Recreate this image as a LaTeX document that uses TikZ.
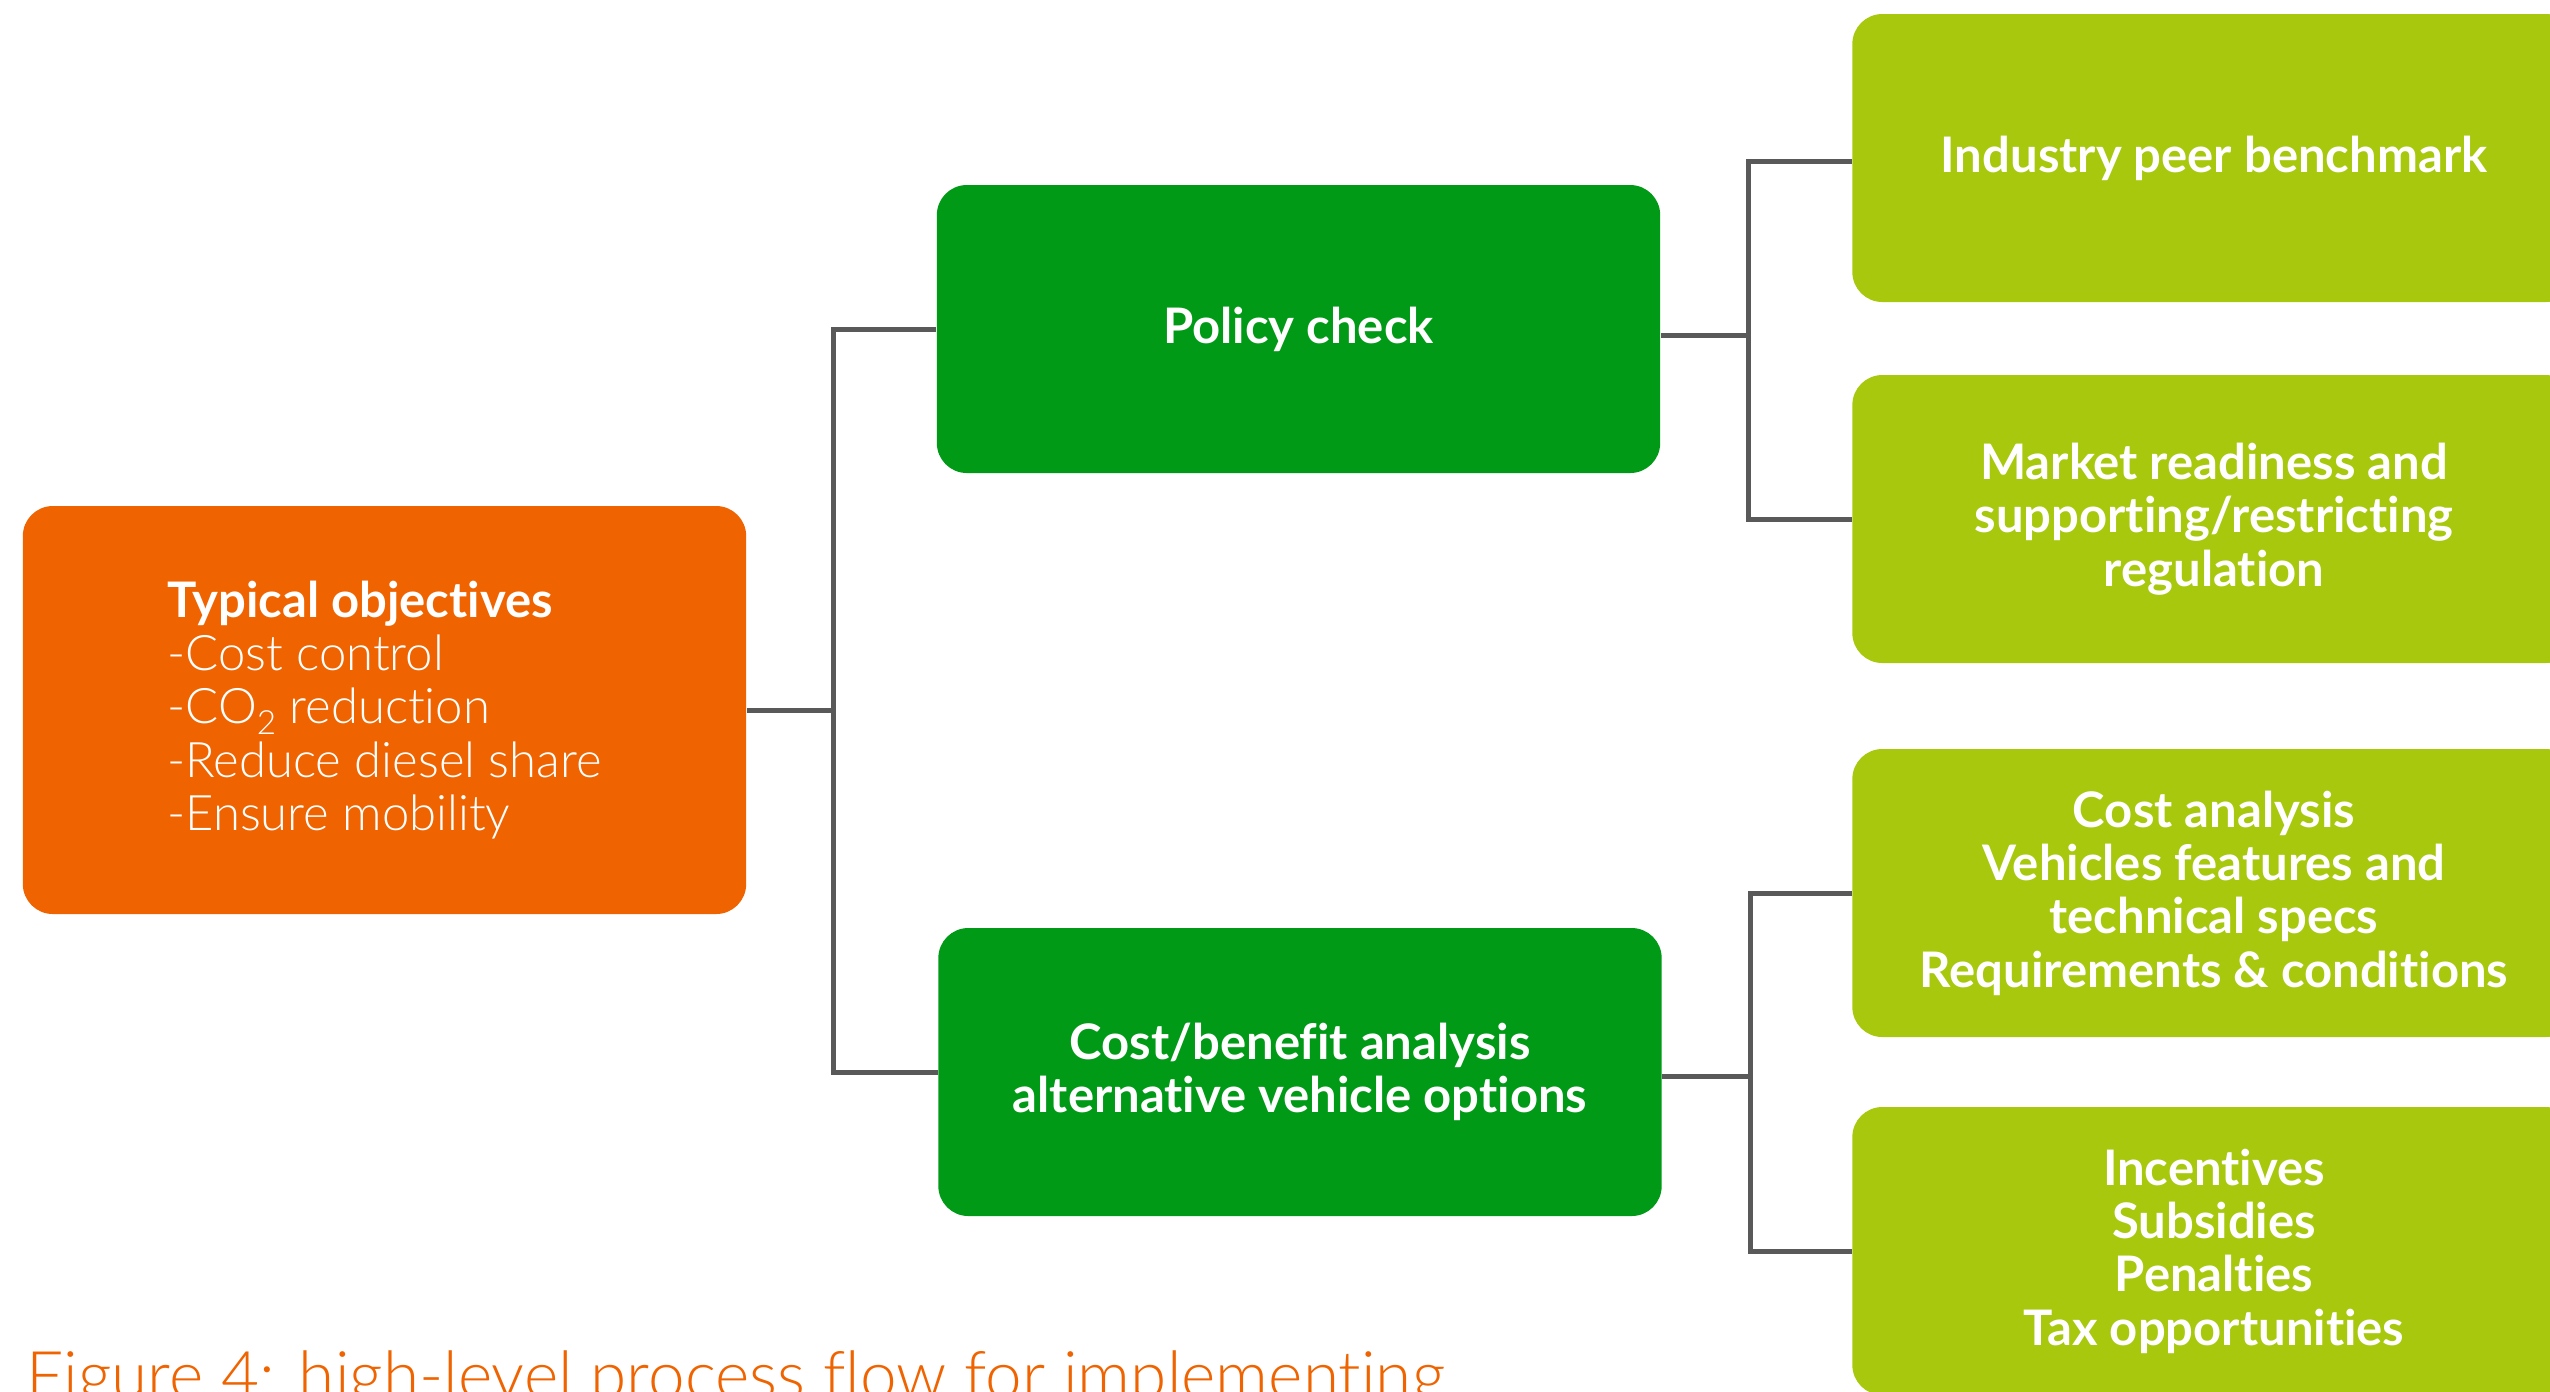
\documentclass[tikz,border=0pt]{standalone}
\usepackage{fontspec}
\setmainfont{Lato}[Ligatures=NoCommon]
\newfontfamily\lightfont{Lato Light}[Ligatures=NoCommon]
\definecolor{orangec}{HTML}{EF6400}
\definecolor{greenc}{HTML}{009A17}
\definecolor{limec}{HTML}{A8C80E}
\definecolor{linec}{HTML}{595959}
\tikzset{
  box/.style={rounded corners=9pt, minimum width=217pt, minimum height=86.4pt, inner sep=0pt,
    text=white, align=center, font=\bfseries\fontsize{14.7}{16}\selectfont},
  mainbox/.style={box, fill=greenc},
  subbox/.style={box, fill=limec},
  conn/.style={draw=linec, line width=1.5pt}
}
\begin{document}
\begin{tikzpicture}[x=0.3pt,y=-0.3pt]
\clip (0,0) rectangle (2550,1391);
\fill[white] (0,0) rectangle (2550,1391);
\node[box, fill=orangec, minimum height=122.4pt, align=left, font=\fontsize{14.7}{16}\selectfont] (obj) at (384.5,710)
  {\textbf{Typical objectives}\\{\lightfont -Cost control}\\{\lightfont -CO\raisebox{-0.45ex}{\fontsize{10}{10}\selectfont 2} reduction}\\{\lightfont -Reduce diesel share}\\{\lightfont -Ensure mobility}};
\node[mainbox] (policy) at (1298.5,329) {Policy check};
\node[mainbox] (cost) at (1300,1072) {Cost/benefit analysis\\alternative vehicle options};
\node[subbox] (ind) at (2214,158) {Industry peer benchmark};
\node[subbox] (mkt) at (2214,519) {Market readiness and\\supporting/restricting\\regulation};
\node[subbox] (ca) at (2214,893) {Cost analysis\\Vehicles features and\\technical specs\\Requirements \& conditions};
\node[subbox] (inc) at (2214,1251) {Incentives\\Subsidies\\Penalties\\Tax opportunities};
\draw[conn] (obj.east) -- ++(87,0) coordinate (j1);
\draw[conn] (j1) |- (policy.west);
\draw[conn] (j1) |- (cost.west);
\draw[conn] ([yshift=-1.8pt]policy.east) -- ++(88,0) coordinate (j2);
\draw[conn] (j2) |- ([yshift=-0.9pt]ind.west);
\draw[conn] (j2) |- (mkt.west);
\draw[conn] ([yshift=-1.2pt]cost.east) -- ++(88,0) coordinate (j3);
\draw[conn] (j3) |- (ca.west);
\draw[conn] (j3) |- (inc.west);
\node[anchor=base west, text=orangec, inner sep=0pt, font=\lightfont\fontsize{19.7}{22}\selectfont] (cap) at (26,1398)
  {Figure 4: high-level process flow for implementing};
\end{tikzpicture}
\end{document}
